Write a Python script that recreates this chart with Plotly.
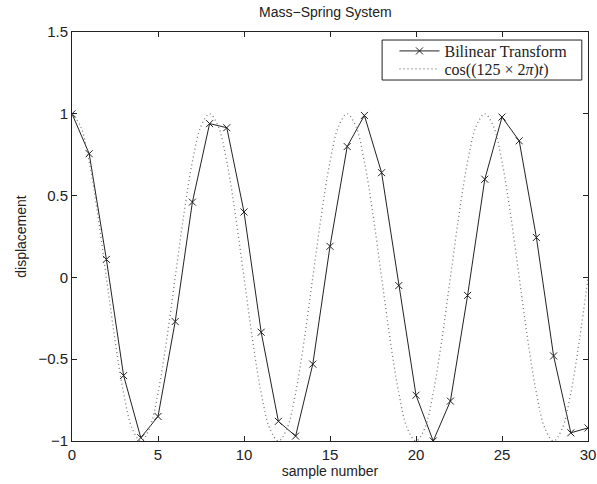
import plotly.graph_objects as go

# Data
samples = list(range(31))
bilinear = [1.0, 0.756, 0.11, -0.60, -0.98, -0.85, -0.27, 0.46, 0.94, 0.915,
            0.40, -0.335, -0.88, -0.97, -0.53, 0.19, 0.80, 0.99, 0.64, -0.05,
            -0.72, -1.0, -0.756, -0.11, 0.60, 0.98, 0.835, 0.244, -0.48, -0.95,
            -0.92]

cos_t = [i * 0.5 for i in range(61)]
cos_vals = [1.0, 0.924, 0.707, 0.383, 0.0, -0.383, -0.707, -0.924,
            -1.0, -0.924, -0.707, -0.383, 0.0, 0.383, 0.707, 0.924,
            1.0, 0.924, 0.707, 0.383, 0.0, -0.383, -0.707, -0.924,
            -1.0, -0.924, -0.707, -0.383, 0.0, 0.383, 0.707, 0.924,
            1.0, 0.924, 0.707, 0.383, 0.0, -0.383, -0.707, -0.924,
            -1.0, -0.924, -0.707, -0.383, 0.0, 0.383, 0.707, 0.924,
            1.0, 0.924, 0.707, 0.383, 0.0, -0.383, -0.707, -0.924,
            -1.0, -0.924, -0.707, -0.383, 0.0]

x_ticks = [0, 5, 10, 15, 20, 25, 30]
y_ticks = [-1, -0.5, 0, 0.5, 1, 1.5]
y_tick_text = ["\u22121", "\u22120.5", "0", "0.5", "1", "1.5"]

INK = "#222222"
SANS = "Liberation Sans, Arial"
SERIF = "Liberation Serif, DejaVu Serif"

fig = go.Figure()
fig.add_trace(go.Scatter(
    x=samples, y=bilinear, mode="lines+markers", name="Bilinear Transform",
    line=dict(color=INK, width=1),
    marker=dict(symbol="x-thin-open", size=7, color=INK, line=dict(width=1, color=INK)),
    legend="legend",
))
fig.add_trace(go.Scatter(
    x=cos_t, y=cos_vals, mode="lines", name="cos((125 \u00d7 2<i>\u03c0</i>)<i>t</i>)",
    line=dict(color="#777777", width=1.3, dash="1px,3px", shape="spline"),
    legend="legend2",
))

axis_common = dict(
    showline=True, linecolor=INK, linewidth=1, mirror="ticks",
    ticks="inside", ticklen=5, tickcolor=INK, showgrid=False, zeroline=False,
    tickfont=dict(family=SANS, size=15, color=INK), automargin=False,
)

legend_common = dict(
    xanchor="left", yanchor="middle", borderwidth=0, bgcolor="rgba(0,0,0,0)",
    font=dict(family=SERIF, size=16, color=INK), itemwidth=40,
)

fig.update_layout(
    width=597, height=484,
    margin=dict(l=72, r=9, t=32, b=43),
    paper_bgcolor="white", plot_bgcolor="white",
    title=dict(text="Mass\u2212Spring System", x=0.545, xanchor="center", y=0.985, yanchor="top",
               font=dict(family=SANS, size=14, color=INK)),
    xaxis=dict(range=[0, 30.0001], tickvals=x_ticks, ticklabeloverflow="allow",
               title=dict(text="sample number", standoff=0,
                          font=dict(family=SANS, size=14, color=INK)),
               **axis_common),
    yaxis=dict(range=[-1, 1.5], tickvals=y_ticks, ticktext=y_tick_text,
               title=dict(text="displacement", standoff=8,
                          font=dict(family=SANS, size=14, color=INK)),
               **axis_common),
    legend=dict(x=0.625, y=0.9535, **legend_common),
    legend2=dict(x=0.625, y=0.9095, **legend_common),
    shapes=[dict(type="rect", xref="paper", yref="paper",
                 x0=0.601, x1=0.988, y0=0.8826, y1=0.9804,
                 line=dict(color=INK, width=1), fillcolor="white", layer="above")],
    showlegend=True,
)

fig.write_html("out.html")
